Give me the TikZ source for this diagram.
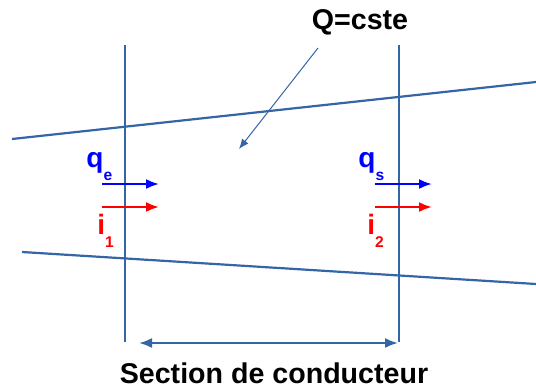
\documentclass[tikz,border=0pt]{standalone}
\usepackage{fontspec}
\setmainfont{Liberation Sans}
\usetikzlibrary{arrows.meta,positioning}
\definecolor{frame}{HTML}{3465A4}
\definecolor{fluxblue}{HTML}{0000FF}
\definecolor{fluxred}{HTML}{FF0000}
\tikzset{
  wall/.style={draw=frame,line width=1.1pt},
  pointer/.style={-{Latex[length=5pt,width=4pt]},draw=frame,line width=0.5pt},
  span/.style={{Latex[length=6.5pt,width=5pt]}-{Latex[length=6.5pt,width=5pt]},draw=frame,line width=1.1pt},
  flux/.style={-{Latex[length=6.5pt,width=5pt]},line width=1.1pt},
  sym/.style={font=\fontsize{14}{15}\selectfont\bfseries,inner sep=0pt,anchor=base west},
  title/.style={font=\fontsize{14.3}{15}\selectfont\bfseries,inner sep=0pt}
}
\newcommand{\lowsub}[1]{\raisebox{-6.5pt}{\fontsize{7.8}{8}\selectfont #1}}

\begin{document}
\begin{tikzpicture}[x=0.5pt,y=-0.5pt]
  \useasboundingbox (0,0) rectangle (536,387);
  % walls of the section
  \coordinate (lt) at (125,45);  \coordinate (lb) at (125,342);
  \coordinate (rt) at (399,45);  \coordinate (rb) at (399,342);
  \draw[wall] (lt) -- (lb);
  \draw[wall] (rt) -- (rb);
  % conductor edges
  \coordinate (ua) at (12,139);  \coordinate (ub) at (536,82);
  \coordinate (da) at (22,252);  \coordinate (db) at (536,284);
  \draw[wall] (ua) -- (ub);
  \draw[wall] (da) -- (db);
  % labels
  \node[title] (q) at (360,22) {Q=cste};
  \coordinate (qfoot) at (318,48);  \coordinate (qtip) at (239,149);
  \draw[pointer] (qfoot) -- (qtip);
  \node[title] (sec) at (274,373) {Section de conducteur};
  \coordinate (sa) at (139,343);  \coordinate (sb) at (398,343);
  \draw[span] (sa) -- (sb);
  % flows in
  \node[sym,text=fluxblue] (qe) at (86,167) {q\lowsub{e}};
  \node[sym,text=fluxred] (i1) at (97,234) {i\lowsub{1}};
  \coordinate (qea) at (102,184);  \coordinate (qeb) at (159,184);
  \coordinate (i1a) at (102,207);  \coordinate (i1b) at (159,207);
  \draw[flux,fluxblue] (qea) -- (qeb);
  \draw[flux,fluxred] (i1a) -- (i1b);
  % flows out
  \node[sym,text=fluxblue] (qs) at (358,167) {q\lowsub{s}};
  \node[sym,text=fluxred] (i2) at (367,234) {i\lowsub{2}};
  \coordinate (qsa) at (375,184);  \coordinate (qsb) at (432,184);
  \coordinate (i2a) at (375,207);  \coordinate (i2b) at (432,207);
  \draw[flux,fluxblue] (qsa) -- (qsb);
  \draw[flux,fluxred] (i2a) -- (i2b);
\end{tikzpicture}
\end{document}
